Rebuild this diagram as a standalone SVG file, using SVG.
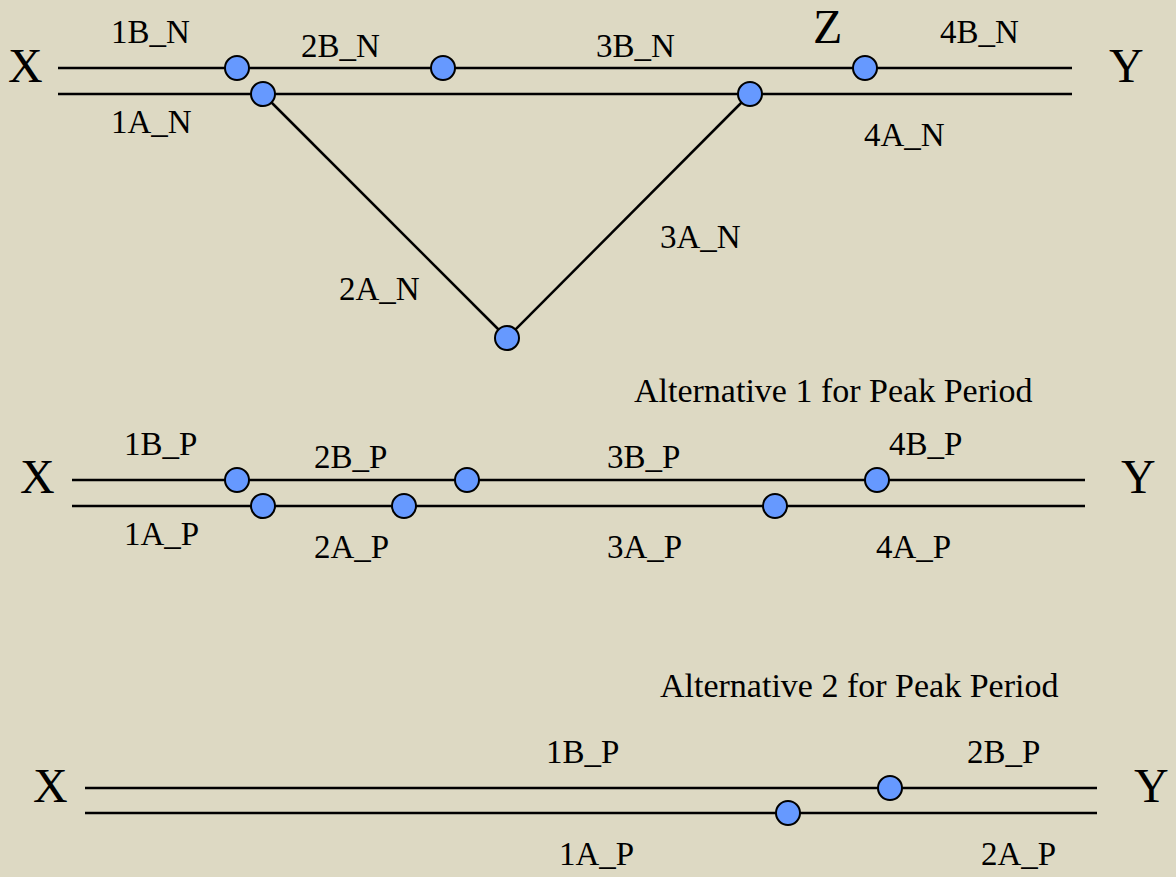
<svg xmlns="http://www.w3.org/2000/svg" width="1176" height="877" viewBox="0 0 1176 877">
<style>
.ln{stroke:#000;stroke-width:2.5;fill:none}
.nd{fill:#6699FF;stroke:#000;stroke-width:2}
.t{font-family:"Liberation Serif","Times New Roman",serif;font-size:33px;fill:#000}
.big{font-family:"Liberation Serif","Times New Roman",serif;font-size:48px;fill:#000}
.ttl{font-family:"Liberation Serif","Times New Roman",serif;font-size:34px;fill:#000}
</style>
<rect width="1176" height="877" fill="#DDD9C3"/>
<g id="connectors">
<line class="ln" x1="58" y1="68" x2="1072" y2="68"/>
<line class="ln" x1="58" y1="94" x2="1072" y2="94"/>
<line class="ln" x1="263" y1="94" x2="507" y2="338"/>
<line class="ln" x1="750" y1="94" x2="507" y2="338"/>
<line class="ln" x1="72" y1="480" x2="1085" y2="480"/>
<line class="ln" x1="72" y1="506" x2="1085" y2="506"/>
<line class="ln" x1="85" y1="788" x2="1097" y2="788"/>
<line class="ln" x1="85" y1="813" x2="1097" y2="813"/>
</g>
<g id="n1"><circle class="nd" cx="237" cy="68" r="12"/></g>
<g id="n2"><circle class="nd" cx="263" cy="94" r="12"/></g>
<g id="n3"><circle class="nd" cx="443" cy="68" r="12"/></g>
<g id="n4"><circle class="nd" cx="865" cy="68" r="12"/></g>
<g id="n5"><circle class="nd" cx="750" cy="94" r="12"/></g>
<g id="n6"><circle class="nd" cx="507" cy="338" r="12"/></g>
<g id="n7"><circle class="nd" cx="237" cy="480" r="12"/></g>
<g id="n8"><circle class="nd" cx="467" cy="480" r="12"/></g>
<g id="n9"><circle class="nd" cx="877" cy="480" r="12"/></g>
<g id="n10"><circle class="nd" cx="263" cy="506" r="12"/></g>
<g id="n11"><circle class="nd" cx="404" cy="506" r="12"/></g>
<g id="n12"><circle class="nd" cx="775" cy="506" r="12"/></g>
<g id="n13"><circle class="nd" cx="890" cy="788" r="12"/></g>
<g id="n14"><circle class="nd" cx="788" cy="813" r="12"/></g>
<g id="labels">
<text class="big" x="8" y="82">X</text>
<text class="big" x="1109" y="82">Y</text>
<text class="big" x="813" y="43">Z</text>
<text class="t" x="111" y="43">1B_N</text>
<text class="t" x="301" y="57">2B_N</text>
<text class="t" x="596" y="57">3B_N</text>
<text class="t" x="940" y="43">4B_N</text>
<text class="t" x="111" y="133">1A_N</text>
<text class="t" x="864" y="146">4A_N</text>
<text class="t" x="660" y="248">3A_N</text>
<text class="t" x="339" y="300">2A_N</text>
<text class="ttl" x="634" y="402">Alternative 1 for Peak Period</text>
<text class="big" x="20" y="493">X</text>
<text class="big" x="1121" y="493">Y</text>
<text class="t" x="124" y="455">1B_P</text>
<text class="t" x="314" y="468">2B_P</text>
<text class="t" x="607" y="468">3B_P</text>
<text class="t" x="889" y="455">4B_P</text>
<text class="t" x="124" y="545">1A_P</text>
<text class="t" x="314" y="558">2A_P</text>
<text class="t" x="607" y="558">3A_P</text>
<text class="t" x="876" y="558">4A_P</text>
<text class="ttl" x="660" y="697">Alternative 2 for Peak Period</text>
<text class="big" x="33" y="802">X</text>
<text class="big" x="1134" y="802">Y</text>
<text class="t" x="546" y="763">1B_P</text>
<text class="t" x="967" y="763">2B_P</text>
<text class="t" x="559" y="865">1A_P</text>
<text class="t" x="981" y="865">2A_P</text>
</g>
</svg>
